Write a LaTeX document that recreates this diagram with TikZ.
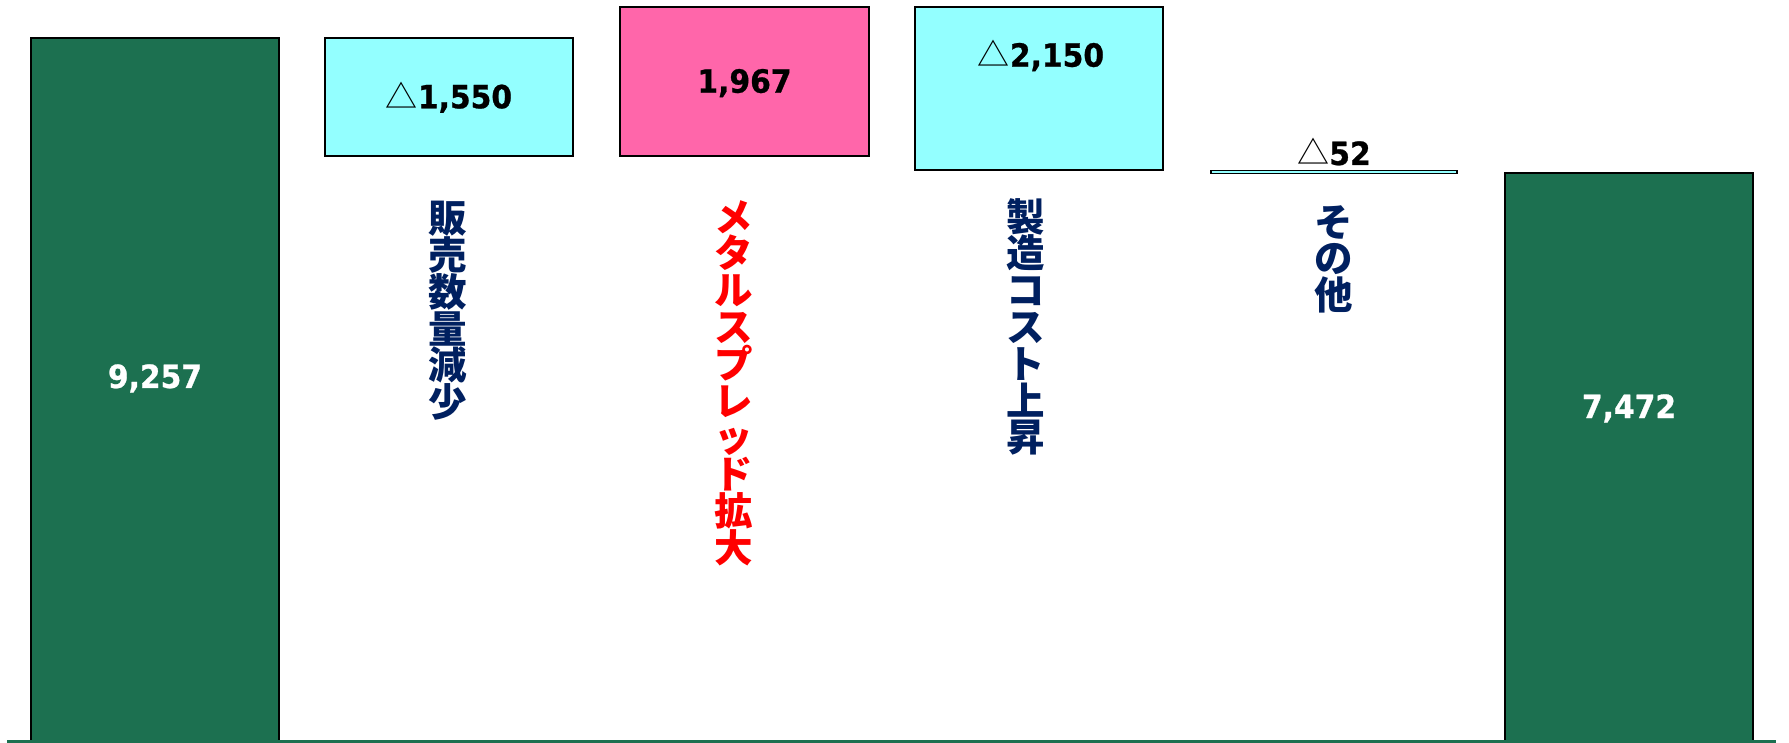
\documentclass[tikz,border=0pt]{standalone}
\usepackage{fontspec}
\newfontfamily\numfont[FakeStretch=0.93,FakeBold=0.8]{DejaVu Sans}
\newfontfamily\jpfont{Noto Sans CJK JP}
\definecolor{barGreen}{RGB}{28,112,80}
\definecolor{boxCyan}{RGB}{147,255,255}
\definecolor{boxPink}{RGB}{255,102,170}
\definecolor{navy}{RGB}{0,32,96}
\definecolor{redtxt}{RGB}{255,0,0}
\newcommand\tri{{\jpfont\mdseries △}}
\newcommand\tightlines{\lineskiplimit=-40pt\relax\lineskip=0pt\relax}
\newcommand\vlabelfont{\jpfont\bfseries\fontsize{38.5}{36.8}\selectfont\tightlines}
\tikzset{
  greenbar/.style={draw=black, line width=1.5pt, fill=barGreen},
  cyanbox/.style={draw=black, line width=2pt, fill=boxCyan},
  pinkbox/.style={draw=black, line width=2pt, fill=boxPink},
  numlabel/.style={anchor=base, inner sep=0pt, font=\numfont\bfseries\fontsize{32}{36}\selectfont},
  vlabel/.style={anchor=north, inner sep=0pt, align=center, text=navy, font=\vlabelfont},
}
\begin{document}
\begin{tikzpicture}[x=1pt,y=-1pt]
\useasboundingbox (0,0) rectangle (1789,743);
\fill[white] (0,0) rectangle (1789,743);
% bars and boxes
\draw[greenbar] (31,38) rectangle (279,742);
\draw[cyanbox] (325,38) rectangle (573,156);
\draw[pinkbox] (620,7) rectangle (869,156);
\draw[cyanbox] (915,7) rectangle (1163,170);
\draw[draw=black, line width=1.3pt, fill=boxCyan] (1211,170.3) rectangle (1457,173.7);
\draw[greenbar] (1505,173) rectangle (1753,742);
% baseline
\fill[barGreen] (7,739.6) rectangle (1776,743);
% values
\node[numlabel, text=white] (v1) at (155,388) {9,257};
\node[numlabel] (v2) at (449,108.3) {\tri1,550};
\node[numlabel] (v3) at (744.5,92.7) {1,967};
\node[numlabel] (v4) at (1041,66.7) {\tri2,150};
\node[numlabel] (v5) at (1334,165) {\tri52};
\node[numlabel, text=white] (v6) at (1629,418) {7,472};
% vertical labels
\node[vlabel] (l1) at (447.5,201) {販\\売\\数\\量\\減\\少};
\node[vlabel, text=redtxt] (l2) at (734,200) {メ\\タ\\ル\\ス\\プ\\レ\\ッ\\ド\\拡\\大};
\node[vlabel] (l3) at (1026,198) {製\\造\\コ\\ス\\ト\\上\\昇};
\node[vlabel] (l4) at (1334,205) {そ\\の\\他};
\end{tikzpicture}
\end{document}
